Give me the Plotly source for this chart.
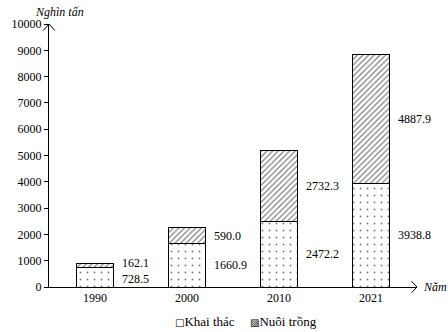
import plotly.graph_objects as go

years = ["1990", "2000", "2010", "2021"]
khai_thac = [728.5, 1660.9, 2472.2, 3938.8]
nuoi_trong = [162.1, 590.0, 2732.3, 4887.9]
khai_labels = ["728.5", "1660.9", "2472.2", "3938.8"]
nuoi_labels = ["162.1", "590.0", "2732.3", "4887.9"]
series_names = ["Khai thác", "Nuôi trồng"]
legend_glyphs = ["□", "▨"]

FONT = "Liberation Serif"
BW = 0.41

fig = go.Figure()
fig.add_trace(go.Bar(
    x=years, y=khai_thac, name=series_names[0], width=BW, showlegend=False,
    marker=dict(color="white", line=dict(color="black", width=1),
                pattern=dict(shape=".", fgcolor="black", bgcolor="white", size=7, solidity=0.06)),
))
fig.add_trace(go.Bar(
    x=years, y=nuoi_trong, name=series_names[1], width=BW, showlegend=False,
    marker=dict(color="white", line=dict(color="black", width=1),
                pattern=dict(shape="/", fgcolor="black", bgcolor="white", size=4, solidity=0.3)),
))

anns = []
for i, y in enumerate(years):
    k = khai_thac[i]
    n = nuoi_trong[i]
    yk = k / 2
    yn = k + n / 2
    if i == 0:
        yk = 300
        yn = 930
    anns.append(dict(x=i, y=yk, text=khai_labels[i], xref="x", yref="y", showarrow=False,
                     xanchor="left", xshift=25, font=dict(family=FONT, size=12, color="black")))
    anns.append(dict(x=i, y=yn, text=nuoi_labels[i], xref="x", yref="y", showarrow=False,
                     xanchor="left", xshift=25, font=dict(family=FONT, size=12, color="black")))

anns.append(dict(x=0.0, y=1.0, xref="paper", yref="paper", text="<i>Nghìn tấn</i>", showarrow=False,
                 xanchor="center", yanchor="bottom", xshift=10, yshift=3,
                 font=dict(family=FONT, size=12, color="black")))
anns.append(dict(x=1.0, y=0.0, xref="paper", yref="paper", text="<i>Năm</i>", showarrow=False,
                 xanchor="left", yanchor="middle", xshift=4,
                 font=dict(family=FONT, size=12, color="black")))

# legend drawn as text
for gx, glyph, name in zip([0.338, 0.54], legend_glyphs, series_names):
    anns.append(dict(x=gx, y=-0.133, xref="paper", yref="paper", showarrow=False,
                     xanchor="left", yanchor="middle",
                     text=f"<span style='font-family:DejaVu Sans;font-size:10px'>{glyph}</span>{name}",
                     font=dict(family=FONT, size=13, color="black")))

shapes = [
    dict(type="path", xref="paper", yref="paper",
         path="M -0.016 0.975 L 0 1.0 L 0.016 0.975", line=dict(color="black", width=1)),
    dict(type="path", xref="paper", yref="paper",
         path="M 0.985 0.022 L 1.0 0 L 0.985 -0.022", line=dict(color="black", width=1)),
]

fig.update_layout(
    barmode="stack",
    width=448, height=332,
    margin=dict(l=44, r=31, t=24, b=45),
    paper_bgcolor="white", plot_bgcolor="white",
    font=dict(family=FONT, size=12, color="black"),
    annotations=anns, shapes=shapes,
    showlegend=False,
)
fig.update_xaxes(type="category", range=[-0.5, 3.5], showline=True, linecolor="black", linewidth=1,
                 ticks="", showgrid=False, tickfont=dict(family=FONT, size=12))
fig.update_yaxes(range=[0, 10000], dtick=1000, tickformat="d", showline=True, linecolor="black",
                 linewidth=1, ticks="outside", ticklen=4, tickcolor="black", showgrid=False,
                 zeroline=False, tickfont=dict(family=FONT, size=12))

fig.write_html("out.html")
